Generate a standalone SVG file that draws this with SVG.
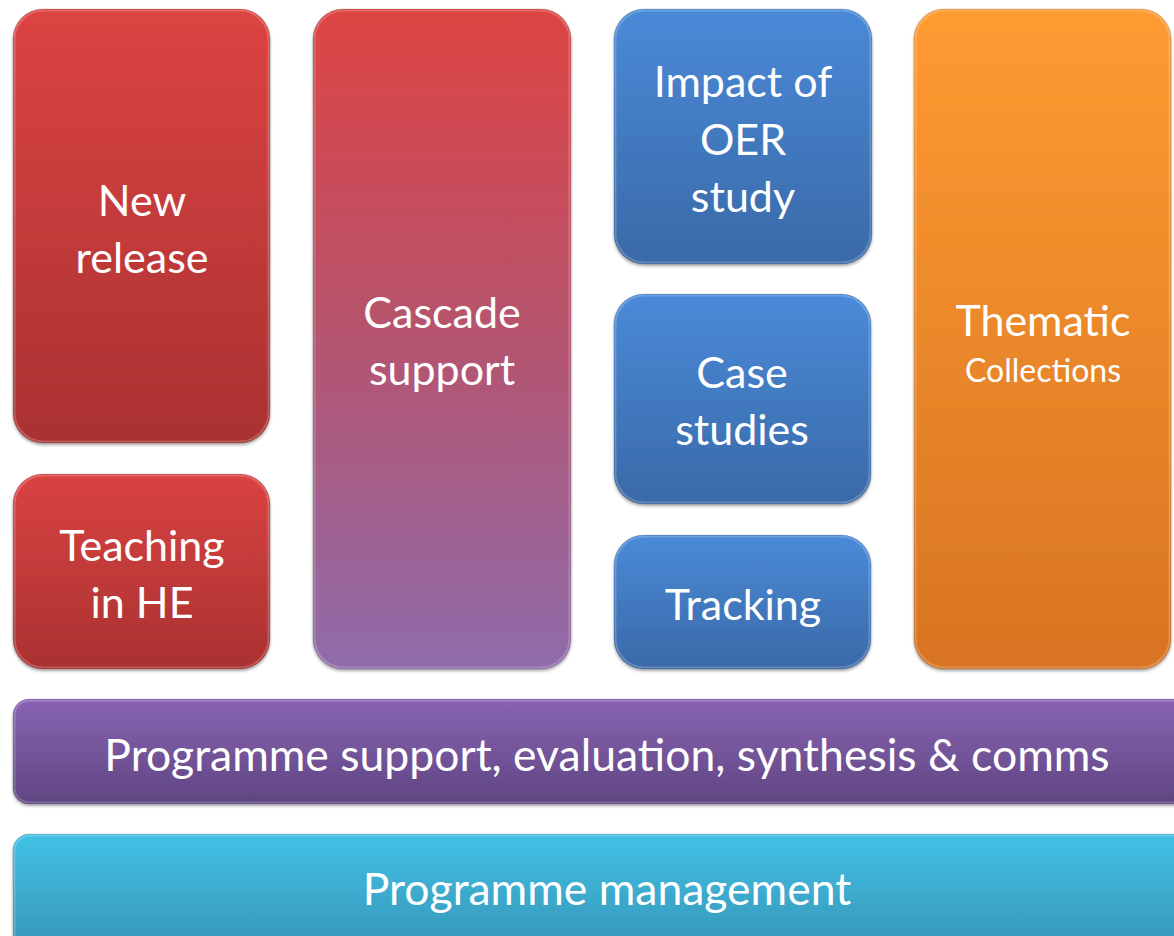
<svg xmlns="http://www.w3.org/2000/svg" width="1174" height="936" viewBox="0 0 1174 936">
<defs>
<linearGradient id="gRed" x1="0" y1="0" x2="0" y2="1"><stop offset="0" stop-color="#dc4442"/><stop offset="1" stop-color="#aa3131"/></linearGradient>
<linearGradient id="gRed2" x1="0" y1="0" x2="0" y2="1"><stop offset="0" stop-color="#d94341"/><stop offset="1" stop-color="#aa3131"/></linearGradient>
<linearGradient id="gCas" x1="0" y1="0" x2="0" y2="1"><stop offset="0" stop-color="#de4442"/><stop offset="0.5" stop-color="#b5546f"/><stop offset="1" stop-color="#8f6cab"/></linearGradient>
<linearGradient id="gBlue" x1="0" y1="0" x2="0" y2="1"><stop offset="0" stop-color="#4a8ad8"/><stop offset="1" stop-color="#3a69a7"/></linearGradient>
<linearGradient id="gOr" x1="0" y1="0" x2="0" y2="1"><stop offset="0" stop-color="#fe9b31"/><stop offset="1" stop-color="#d87422"/></linearGradient>
<linearGradient id="gPur" x1="0" y1="0" x2="0" y2="1"><stop offset="0" stop-color="#8964b4"/><stop offset="1" stop-color="#5f4581"/></linearGradient>
<linearGradient id="gCy" x1="0" y1="0" x2="0" y2="1"><stop offset="0" stop-color="#42c1e6"/><stop offset="1" stop-color="#3594b5"/></linearGradient>
<filter id="sh" x="-5%" y="-5%" width="110%" height="110%"><feDropShadow dx="0" dy="2" stdDeviation="1.5" flood-color="#000" flood-opacity="0.35"/></filter>
</defs>
<style>
.b{filter:url(#sh);stroke:#000;stroke-opacity:0.12;stroke-width:1}
.hl{fill:none;stroke:#ffffff;stroke-opacity:0.2;stroke-width:2}
.t{font-family:Lato,"Open Sans",sans-serif;fill:#ffffff;font-size:43px;text-anchor:middle}
.s{font-size:32px}
.w{font-size:44.5px}
</style>
<rect width="1174" height="936" fill="#ffffff"/>
<g id="new-release"><rect class="b" x="13" y="9" width="257" height="434" rx="30" fill="url(#gRed)"/><rect class="hl" x="14.5" y="10.5" width="254" height="431" rx="29"/><text class="t" x="142" y="216">New</text><text class="t" x="142" y="273">release</text></g>
<g id="teaching"><rect class="b" x="13" y="474" width="257" height="195" rx="30" fill="url(#gRed2)"/><rect class="hl" x="14.5" y="475.5" width="254" height="192" rx="29"/><text class="t" x="142" y="561">Teaching</text><text class="t" x="142" y="618">in HE</text></g>
<g id="cascade"><rect class="b" x="313" y="9" width="258" height="660" rx="30" fill="url(#gCas)"/><rect class="hl" x="314.5" y="10.5" width="255" height="657" rx="29"/><text class="t" x="442" y="328">Cascade</text><text class="t" x="442" y="385">support</text></g>
<g id="impact"><rect class="b" x="614" y="9" width="258" height="255" rx="30" fill="url(#gBlue)"/><rect class="hl" x="615.5" y="10.5" width="255" height="252" rx="29"/><text class="t" x="743" y="97">Impact of</text><text class="t" x="743" y="155">OER</text><text class="t" x="743" y="212">study</text></g>
<g id="case"><rect class="b" x="614" y="294" width="257" height="210" rx="30" fill="url(#gBlue)"/><rect class="hl" x="615.5" y="295.5" width="254" height="207" rx="29"/><text class="t" x="742" y="388">Case</text><text class="t" x="742" y="445">studies</text></g>
<g id="tracking"><rect class="b" x="614" y="535" width="257" height="134" rx="30" fill="url(#gBlue)"/><rect class="hl" x="615.5" y="536.5" width="254" height="131" rx="29"/><text class="t" x="743" y="620">Tracking</text></g>
<g id="thematic"><rect class="b" x="914" y="9" width="257" height="660" rx="30" fill="url(#gOr)"/><rect class="hl" x="915.5" y="10.5" width="254" height="657" rx="29"/><text class="t" x="1043" y="336">Thematic</text><text class="t s" x="1043" y="382">Collections</text></g>
<g id="support"><rect class="b" x="13" y="699" width="1180" height="105" rx="16" fill="url(#gPur)"/><rect class="hl" x="14.5" y="700.5" width="1180" height="102" rx="15"/><text class="t w" x="607" y="771">Programme support, evaluation, synthesis &amp; comms</text></g>
<g id="management"><rect class="b" x="13" y="834" width="1180" height="120" rx="16" fill="url(#gCy)"/><rect class="hl" x="14.5" y="835.5" width="1180" height="120" rx="15"/><text class="t w" x="607" y="905">Programme management</text></g>
<g id="connectors"/>
</svg>
